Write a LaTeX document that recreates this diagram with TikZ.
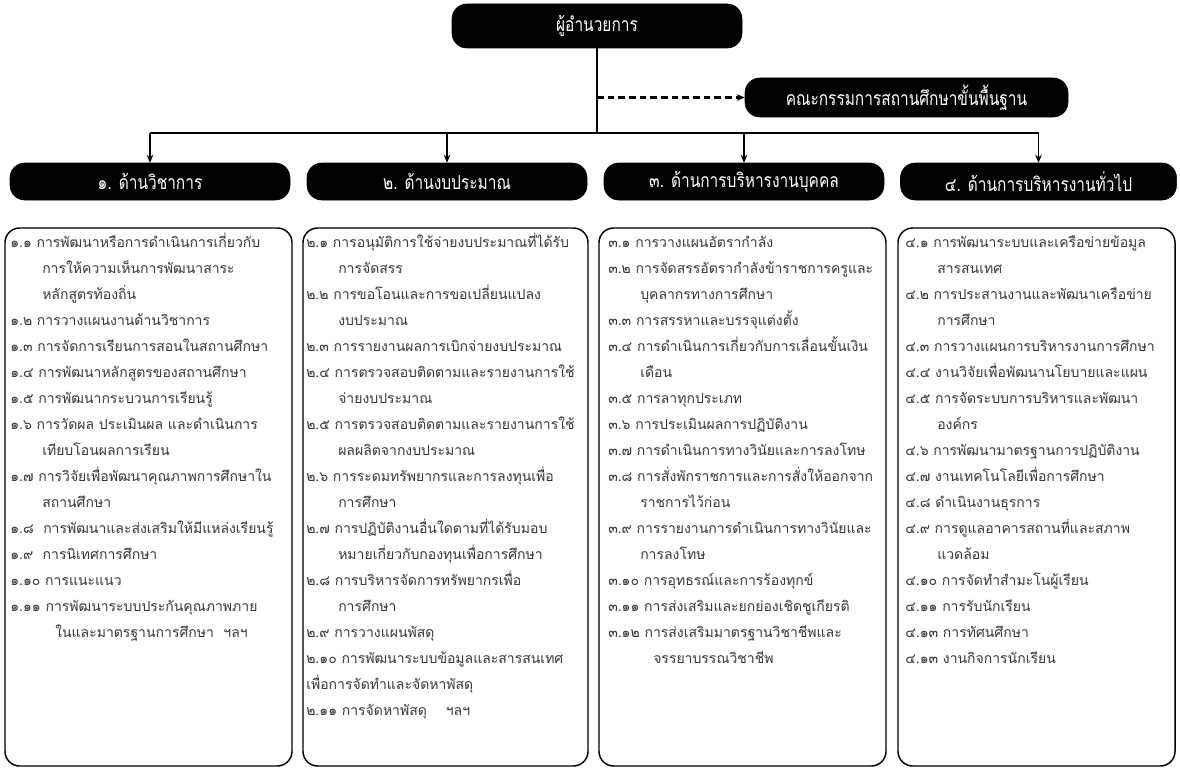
\documentclass[tikz,border=0pt]{standalone}
\usepackage{fontspec}
\setmainfont[Script=Thai]{Loma}
\newfontfamily\headfont[Script=Thai,FakeStretch=0.8]{Loma}
\usetikzlibrary{arrows.meta}
\definecolor{bodytext}{HTML}{383838}
\tikzset{
  blackbox/.style={fill=black, draw=black, rounded corners=11pt, text=white, inner sep=0pt, font=\headfont\fontsize{14.5pt}{17pt}\selectfont},
  listbox/.style={draw=black, line width=1.1pt, rounded corners=11pt, inner sep=0pt, fill=white},
  listtext/.style={anchor=base west, inner sep=0pt, text=bodytext},
  conn/.style={line width=1.1pt},
  arr/.style={conn, -{Stealth[length=6pt,width=5pt]}},
}
\newcommand{\ind}{\hspace*{24pt}}
\newcommand{\indd}{\hspace*{33.75pt}}
\newcommand{\lst}[1]{\parbox[t]{400pt}{\fontsize{10.5pt}{19.5pt}\selectfont\raggedright #1}}
\begin{document}
\begin{tikzpicture}[x=0.75pt,y=-0.75pt]
\useasboundingbox (0,0) rectangle (1180,774);
% top boxes
\node[blackbox, minimum width=217.5pt, minimum height=33pt] (dir) at (597,26) {ผู้อำนวยการ};
\node[blackbox, minimum width=242.25pt, minimum height=29.25pt] (comm) at (906.5,97.5) {คณะกรรมการสถานศึกษาขั้นพื้นฐาน};
% headings
\node[blackbox, minimum width=210pt, minimum height=27.75pt] (h1) at (150,181.5) {๑. ด้านวิชาการ};
\node[blackbox, minimum width=210pt, minimum height=27.75pt] (h2) at (447,181.5) {๒. ด้านงบประมาณ};
\node[blackbox, minimum width=210pt, minimum height=27.75pt] (h3) at (744,181.5) {๓. ด้านการบริหารงานบุคคล};
\node[blackbox, minimum width=207pt, minimum height=27.75pt] (h4) at (1038.5,181.5) {๔. ด้านการบริหารงานทั่วไป};
% connectors
\coordinate (bus) at (597,133);
\draw[conn] (dir.south) -- (bus);
\draw[conn] (h1.north |- bus) -- (h4.north |- bus);
\foreach \h in {h1,h2,h3,h4} \draw[arr] (\h.north |- bus) -- (\h.north);
\draw[arr, line width=1.6pt, dash pattern=on 5pt off 3pt] (dir.south |- comm.west) -- (comm.west);
% list boxes
\node[listbox, minimum width=215.25pt, minimum height=403.5pt] (b1) at (148.5,497) {};
\node[listbox, minimum width=213.75pt, minimum height=403.5pt] (b2) at (445.5,497) {};
\node[listbox, minimum width=215.25pt, minimum height=403.5pt] (b3) at (742.5,497) {};
\node[listbox, minimum width=207.75pt, minimum height=403.5pt] (b4) at (1036.5,497) {};
\node[listtext] (t1) at (10,247) {\lst{%
๑.๑ การพัฒนาหรือการดำเนินการเกี่ยวกับ\\
\ind การให้ความเห็นการพัฒนาสาระ\\
\ind หลักสูตรท้องถิ่น\\
๑.๒ การวางแผนงานด้านวิชาการ\\
๑.๓ การจัดการเรียนการสอนในสถานศึกษา\\
๑.๔ การพัฒนาหลักสูตรของสถานศึกษา\\
๑.๕ การพัฒนากระบวนการเรียนรู้\\
๑.๖ การวัดผล ประเมินผล และดำเนินการ\\
\ind เทียบโอนผลการเรียน\\
๑.๗ การวิจัยเพื่อพัฒนาคุณภาพการศึกษาใน\\
\ind สถานศึกษา\\
๑.๘\ \ การพัฒนาและส่งเสริมให้มีแหล่งเรียนรู้\\
๑.๙\ \ การนิเทศการศึกษา\\
๑.๑๐ การแนะแนว\\
๑.๑๑ การพัฒนาระบบประกันคุณภาพภาย\\
\indd ในและมาตรฐานการศึกษา\ \ ฯลฯ}};
\node[listtext] (t2) at (306,247) {\lst{%
๒.๑ การอนุมัติการใช้จ่ายงบประมาณที่ได้รับ\\
\ind การจัดสรร\\
๒.๒ การขอโอนและการขอเปลี่ยนแปลง\\
\ind งบประมาณ\\
๒.๓ การรายงานผลการเบิกจ่ายงบประมาณ\\
๒.๔ การตรวจสอบติดตามและรายงานการใช้\\
\ind จ่ายงบประมาณ\\
๒.๕ การตรวจสอบติดตามและรายงานการใช้\\
\ind ผลผลิตจากงบประมาณ\\
๒.๖ การระดมทรัพยากรและการลงทุนเพื่อ\\
\ind การศึกษา\\
๒.๗ การปฏิบัติงานอื่นใดตามที่ได้รับมอบ\\
\ind หมายเกี่ยวกับกองทุนเพื่อการศึกษา\\
๒.๘ การบริหารจัดการทรัพยากรเพื่อ\\
\ind การศึกษา\\
๒.๙ การวางแผนพัสดุ\\
๒.๑๐ การพัฒนาระบบข้อมูลและสารสนเทศ\\
เพื่อการจัดทำและจัดหาพัสดุ\\
๒.๑๑ การจัดหาพัสดุ\ \ \ \ ฯลฯ}};
\node[listtext] (t3) at (608,247) {\lst{%
๓.๑ การวางแผนอัตรากำลัง\\
๓.๒ การจัดสรรอัตรากำลังข้าราชการครูและ\\
\ind บุคลากรทางการศึกษา\\
๓.๓ การสรรหาและบรรจุแต่งตั้ง\\
๓.๔ การดำเนินการเกี่ยวกับการเลื่อนขั้นเงิน\\
\ind เดือน\\
๓.๕ การลาทุกประเภท\\
๓.๖ การประเมินผลการปฏิบัติงาน\\
๓.๗ การดำเนินการทางวินัยและการลงโทษ\\
๓.๘ การสั่งพักราชการและการสั่งให้ออกจาก\\
\ind ราชการไว้ก่อน\\
๓.๙ การรายงานการดำเนินการทางวินัยและ\\
\ind การลงโทษ\\
๓.๑๐ การอุทธรณ์และการร้องทุกข์\\
๓.๑๑ การส่งเสริมและยกย่องเชิดชูเกียรติ\\
๓.๑๒ การส่งเสริมมาตรฐานวิชาชีพและ\\
\indd จรรยาบรรณวิชาชีพ}};
\node[listtext] (t4) at (905,247) {\lst{%
๔.๑ การพัฒนาระบบและเครือข่ายข้อมูล\\
\ind สารสนเทศ\\
๔.๒ การประสานงานและพัฒนาเครือข่าย\\
\ind การศึกษา\\
๔.๓ การวางแผนการบริหารงานการศึกษา\\
๔.๔ งานวิจัยเพื่อพัฒนานโยบายและแผน\\
๔.๕ การจัดระบบการบริหารและพัฒนา\\
\ind องค์กร\\
๔.๖ การพัฒนามาตรฐานการปฏิบัติงาน\\
๔.๗ งานเทคโนโลยีเพื่อการศึกษา\\
๔.๘ ดำเนินงานธุรการ\\
๔.๙ การดูแลอาคารสถานที่และสภาพ\\
\ind แวดล้อม\\
๔.๑๐ การจัดทำสำมะโนผู้เรียน\\
๔.๑๑ การรับนักเรียน\\
๔.๑๓ การทัศนศึกษา\\
๔.๑๓ งานกิจการนักเรียน}};
\end{tikzpicture}
\end{document}
